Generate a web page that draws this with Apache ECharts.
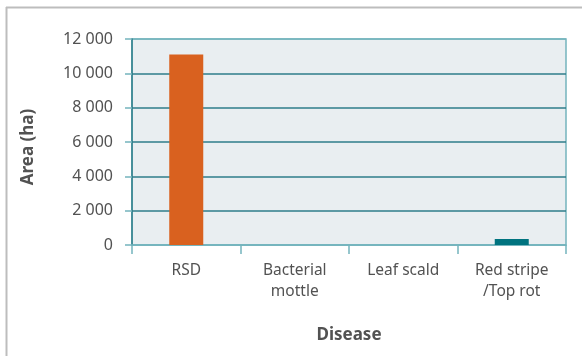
<!DOCTYPE html>
<html>
<head>
<meta charset="utf-8">
<script src="https://cdn.jsdelivr.net/npm/echarts@6/dist/echarts.min.js"></script>
<style>
  html, body { margin: 0; padding: 0; background: #fff; }
  #chart { width: 582px; height: 356px; }
</style>
</head>
<body>
<div id="chart"></div>
<script>
// Affected area by disease
const categories = ['RSD', 'Bacterial\nmottle', 'Leaf scald', 'Red stripe\n/Top rot'];
const areaHa = [11100, 0, 0, 350];
const yTicks = [0, 2000, 4000, 6000, 8000, 10000, 12000];

const barColors = ['#d9611f', '#d9611f', '#d9611f', '#00737f'];
const darkTeal = '#2e7d8a';
const lightTeal = '#74b4bd';
const textGrey = '#525252';
const font = 'Noto Sans';

const chart = echarts.init(document.getElementById('chart'), null, { renderer: 'canvas' });

function fmt(v) {
  return String(v).replace(/\B(?=(\d{3})+(?!\d))/g, ' ');
}

chart.setOption({
  animation: false,
  textStyle: { fontFamily: font },
  grid: {
    left: 132, right: 16, top: 39, bottom: 111,
    show: true,
    backgroundColor: '#e9eef1',
    borderColor: lightTeal,
    borderWidth: 1.5
  },
  graphic: [
    { type: 'line', shape: { x1: 6, y1: 7.5, x2: 582, y2: 7.5 }, style: { stroke: '#bdbdbd', lineWidth: 2 } },
    { type: 'line', shape: { x1: 6.5, y1: 7, x2: 6.5, y2: 356 }, style: { stroke: '#bdbdbd', lineWidth: 2 } },
    {
      type: 'text', x: 28.5, y: 147, rotation: Math.PI / 2,
      style: {
        text: 'Area (ha)', fill: textGrey, font: 'bold 17px "Noto Sans"',
        align: 'center', verticalAlign: 'middle'
      }
    }
  ],
  xAxis: {
    type: 'category',
    data: categories,
    boundaryGap: true,
    name: 'Disease',
    nameLocation: 'middle',
    nameGap: 82,
    nameTextStyle: { fontFamily: font, fontSize: 17, fontWeight: 'bold', color: textGrey },
    axisLine: { show: true, lineStyle: { color: lightTeal, width: 1.5 } },
    axisTick: { show: true, length: 9, alignWithLabel: false, lineStyle: { color: lightTeal, width: 1.5 } },
    axisLabel: { color: textGrey, fontSize: 15.5, lineHeight: 21, margin: 15, fontFamily: font }
  },
  yAxis: {
    type: 'value',
    min: 0,
    max: 12000,
    interval: 2000,
    axisLine: { show: true, lineStyle: { color: darkTeal, width: 1.5 } },
    axisTick: { show: true, length: 7, lineStyle: { color: lightTeal, width: 1.5 } },
    axisLabel: {
      color: textGrey, fontSize: 16, margin: 19, fontFamily: font,
      formatter: v => fmt(v)
    },
    splitLine: {
      show: true,
      lineStyle: {
        color: yTicks.map((t, i) => (i === 0 || i === yTicks.length - 1) ? lightTeal : darkTeal),
        width: 1.5
      }
    }
  },
  series: [{
    type: 'bar',
    data: areaHa,
    barWidth: 34,
    itemStyle: { color: p => barColors[p.dataIndex] }
  }]
});
</script>
</body>
</html>
